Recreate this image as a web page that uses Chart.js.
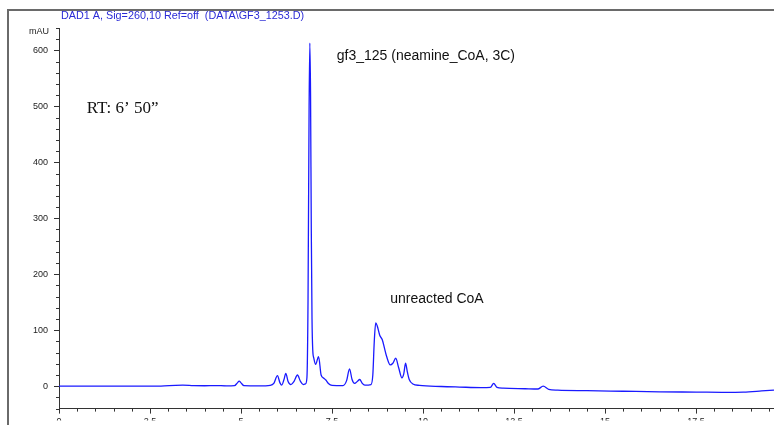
<!DOCTYPE html>
<html>
<head>
<meta charset="utf-8">
<script src="https://cdn.jsdelivr.net/npm/chart.js@4"></script>
<style>
  html, body { margin: 0; padding: 0; background: #fff; overflow: hidden; }
  canvas { display: block; }
</style>
</head>
<body>
<canvas id="myChart" width="774" height="425"></canvas>
<script>
// chromatogram trace (time in min, signal in mAU)
var times = [0.0, 1.0, 2.0, 2.8, 3.2, 3.4, 3.7, 4.0, 4.3, 4.6, 4.82, 4.9, 4.95, 5.0, 5.08, 5.5, 5.8, 5.9, 6.0, 6.07,
  6.12, 6.18, 6.23, 6.29, 6.37, 6.46, 6.55, 6.63, 6.71, 6.77, 6.81, 6.84, 6.87, 6.89, 6.91, 6.93, 6.95, 6.97, 7.0, 7.05,
  7.13, 7.2, 7.28, 7.33, 7.4, 7.5, 7.8, 7.9, 7.98, 8.05, 8.12, 8.2, 8.26, 8.33, 8.4, 8.57, 8.62, 8.66, 8.7, 8.74,
  8.81, 8.88, 8.94, 9.0, 9.1, 9.17, 9.25, 9.33, 9.42, 9.47, 9.52, 9.57, 9.62, 9.72, 9.9, 10.5, 11.0, 11.6, 11.85, 11.94,
  12.03, 12.2, 12.8, 13.15, 13.3, 13.45, 13.7, 14.5, 15.5, 16.5, 17.5, 18.3, 18.8, 19.3, 19.64];
var mAU = [0, 0, 0, 0.3, 1.5, 1.8, 1, 0.8, 1.2, 0.6, 1, 6, 9, 6, 1, 0.5, 1.5, 5, 19, 6,
  2, 12, 23, 9, 3, 9, 20, 9, 3, 4, 15, 150, 500, 613, 520, 280, 120, 65, 50, 39,
  53, 20, 14, 11, 5, 1.5, 1, 10, 31, 12, 5, 9, 12, 5, 2, 3, 20, 80, 113, 108,
  91, 83, 68, 53, 38, 41, 50, 33, 15, 22, 41, 25, 12, 4, 1.5, -0.5, -1.5, -2.5, -2, 5,
  -2, -3.5, -4.5, -5, 0, -5.5, -7, -8, -9, -10, -10.5, -11, -10.5, -8.5, -7];

var xTicks = [0, 2.5, 5, 7.5, 10, 12.5, 15, 17.5];
var xTickLabels = ['0', '2.5', '5', '7.5', '10', '12.5', '15', '17.5'];
var yTicks = [0, 100, 200, 300, 400, 500, 600];
var yTickLabels = ['0', '100', '200', '300', '400', '500', '600'];

var title = 'DAD1 A, Sig=260,10 Ref=off  (DATA\\GF3_1253.D)';
var notes = [
  { text: 'gf3_125 (neamine_CoA, 3C)', t: 7.63, v: 590, font: '14px "Liberation Sans", Arial, sans-serif' },
  { text: 'RT: 6\u2019 50\u201D', t: 0.76, v: 496, font: '17px "Liberation Serif", "Times New Roman", serif' },
  { text: 'unreacted CoA', t: 9.10, v: 156, font: '14px "Liberation Sans", Arial, sans-serif' }
];

var points = times.map(function (t, i) { return { x: t, y: mAU[i] }; });

// frame, header, minor/major tick marks and the text notes
var decor = {
  id: 'decor',
  afterDraw: function (chart) {
    var c = chart.ctx, x = chart.scales.x, y = chart.scales.y;
    c.save();
    c.strokeStyle = '#6a6a6a';
    c.lineWidth = 2;
    c.beginPath();
    c.moveTo(8, 425); c.lineTo(8, 10); c.lineTo(774, 10);
    c.stroke();

    c.fillStyle = '#2b2bd6';
    c.font = '10.8px "Liberation Sans", Arial, sans-serif';
    c.textBaseline = 'middle';
    c.fillText(title, 61, 16);

    c.fillStyle = '#222';
    c.font = '9px "Liberation Sans", Arial, sans-serif';
    c.textAlign = 'right';
    c.fillText('mAU', 49, 32);

    c.strokeStyle = '#333';
    c.lineWidth = 1;
    c.beginPath();
    for (var v = -40; v <= 640; v += 20) {
      var py = Math.round(y.getPixelForValue(v)) + 0.5;
      var len = v % 100 === 0 ? 5 : 3;
      c.moveTo(y.right, py); c.lineTo(y.right - len, py);
    }
    for (var k = 0; k <= 39; k++) {
      var t = k * 0.5;
      var px = Math.round(x.getPixelForValue(t)) + 0.5;
      var l2 = k % 5 === 0 ? 5 : 3;
      c.moveTo(px, x.top); c.lineTo(px, x.top + l2);
    }
    c.stroke();

    c.textAlign = 'left';
    c.fillStyle = '#111';
    notes.forEach(function (n) {
      c.font = n.font;
      c.fillText(n.text, x.getPixelForValue(n.t), y.getPixelForValue(n.v));
    });
    c.restore();
  }
};

var ctx = document.getElementById('myChart');
var myChart = new Chart(ctx, {
  type: 'line',
  data: {
    datasets: [{
      data: points,
      borderColor: '#1a1aff',
      borderWidth: 1.3,
      pointRadius: 0,
      cubicInterpolationMode: 'monotone',
      fill: false
    }]
  },
  options: {
    responsive: false,
    animation: false,
    layout: { padding: { top: 28, left: 0, right: 0, bottom: 0 } },
    plugins: { legend: { display: false }, tooltip: { enabled: false } },
    scales: {
      x: {
        type: 'linear',
        min: 0,
        max: 19.64,
        grid: { display: false, drawTicks: false },
        border: { display: true, color: '#333', width: 1 },
        afterFit: function (s) { s.height = 12; },
        afterBuildTicks: function (s) { s.ticks = xTicks.map(function (v) { return { value: v }; }); },
        ticks: {
          padding: 8,
          maxRotation: 0,
          autoSkip: false,
          color: '#222',
          font: { family: '"Liberation Sans", Arial, sans-serif', size: 9 },
          callback: function (v) { var i = xTicks.indexOf(v); return i < 0 ? '' : xTickLabels[i]; }
        }
      },
      y: {
        min: -40,
        max: 640,
        grid: { display: false, drawTicks: false },
        border: { display: true, color: '#333', width: 1 },
        afterFit: function (s) { s.width = 59; },
        afterBuildTicks: function (s) { s.ticks = yTicks.map(function (v) { return { value: v }; }); },
        ticks: {
          padding: 11,
          autoSkip: false,
          color: '#222',
          font: { family: '"Liberation Sans", Arial, sans-serif', size: 9 },
          callback: function (v) { var i = yTicks.indexOf(v); return i < 0 ? '' : yTickLabels[i]; }
        }
      }
    }
  },
  plugins: [decor]
});
</script>
</body>
</html>
